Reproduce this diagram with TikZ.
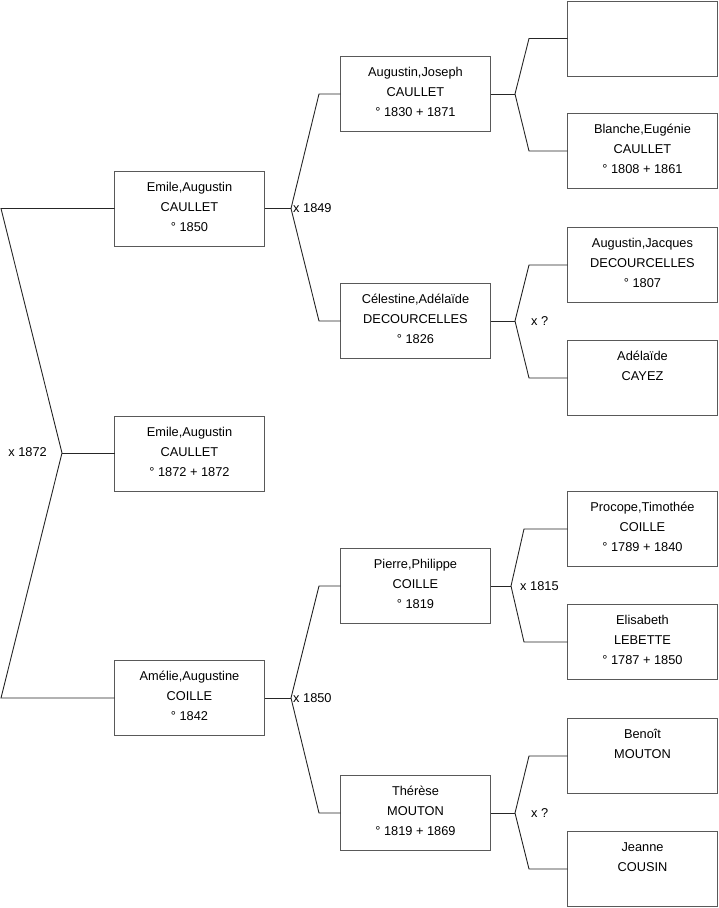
\documentclass[tikz,border=0pt]{standalone}
\usepackage{fontspec}
\setmainfont{Liberation Sans}
\begin{document}
\begin{tikzpicture}[x=1pt,y=-1pt,
  person/.style={draw=black!65, line width=0.9pt, minimum width=150pt, minimum height=75pt,
    inner sep=0pt, outer sep=0pt, align=center, font=\fontsize{12.8}{20}\selectfont, fill=white,
    text depth=4pt},
  conn/.style={draw=black!85, line width=0.9pt},
  mlabel/.style={font=\fontsize{12.8}{15}\selectfont, inner sep=0pt}]
\useasboundingbox (0,0) rectangle (719,908);
\newcommand{\ph}{\phantom{0}}
% level 1
\node[person] (a) at (189.5,208.5) {Emile,Augustin\\CAULLET\\° 1850};
\node[person] (m) at (189.5,454) {Emile,Augustin\\CAULLET\\° 1872 + 1872};
\node[person] (b) at (189.5,698) {Amélie,Augustine\\COILLE\\° 1842};
% level 2
\node[person] (c) at (415.5,94) {Augustin,Joseph\\CAULLET\\° 1830 + 1871};
\node[person] (d) at (415.5,321) {Célestine,Adélaïde\\DECOURCELLES\\° 1826};
\node[person] (e) at (415.5,586) {Pierre,Philippe\\COILLE\\° 1819};
\node[person] (f) at (415.5,813) {Thérèse\\MOUTON\\° 1819 + 1869};
% level 3
\node[person] (g) at (642.5,38.5) {};
\node[person] (h) at (642.5,151) {Blanche,Eugénie\\CAULLET\\° 1808 + 1861};
\node[person] (i) at (642.5,265) {Augustin,Jacques\\DECOURCELLES\\° 1807};
\node[person] (j) at (642.5,378) {Adélaïde\\CAYEZ\\\ph};
\node[person] (k) at (642.5,529) {Procope,Timothée\\COILLE\\° 1789 + 1840};
\node[person] (l) at (642.5,642) {Elisabeth\\LEBETTE\\° 1787 + 1850};
\node[person] (n) at (642.5,756) {Benoît\\MOUTON\\\ph};
\node[person] (o) at (642.5,869) {Jeanne\\COUSIN\\\ph};
% root fork
\coordinate (f0) at (62,453);
\coordinate (f0t) at (1,208.5);
\coordinate (f0b) at (1,698);
\path[conn] (a.west) -- (f0t) -- (f0) -- (f0b) -- (b.west);
\path[conn] (f0) -- (f0 -| m.west);
\node[mlabel, anchor=east] (l0) at (47,452) {x 1872};
% a fork
\coordinate (fa) at (291,208.5);
\coordinate (fat) at (319,94);
\coordinate (fab) at (319,321);
\path[conn] (a.east) -- (fa);
\path[conn] (c.west) -- (fat) -- (fa) -- (fab) -- (d.west);
\node[mlabel, anchor=west] (la) at (293,208.5) {x 1849};
% b fork
\coordinate (fb) at (291,698);
\coordinate (fbt) at (319,586);
\coordinate (fbb) at (319,813);
\path[conn] (b.east) -- (fb);
\path[conn] (e.west) -- (fbt) -- (fb) -- (fbb) -- (f.west);
\node[mlabel, anchor=west] (lb) at (293,698) {x 1850};
% c fork
\coordinate (fc) at (515,94);
\coordinate (fct) at (529,38.5);
\coordinate (fcb) at (529,151);
\path[conn] (c.east) -- (fc);
\path[conn] (g.west) -- (fct) -- (fc) -- (fcb) -- (h.west);
% d fork
\coordinate (fd) at (515,321);
\coordinate (fdt) at (529,265);
\coordinate (fdb) at (529,378);
\path[conn] (d.east) -- (fd);
\path[conn] (i.west) -- (fdt) -- (fd) -- (fdb) -- (j.west);
\node[mlabel, anchor=west] (ld) at (531,321) {x ?};
% e fork
\coordinate (fe) at (511,586);
\coordinate (fet) at (524,529);
\coordinate (feb) at (524,642);
\path[conn] (e.east) -- (fe);
\path[conn] (k.west) -- (fet) -- (fe) -- (feb) -- (l.west);
\node[mlabel, anchor=west] (le) at (520,586) {x 1815};
% f fork
\coordinate (ff) at (515,813);
\coordinate (fft) at (529,756);
\coordinate (ffb) at (529,869);
\path[conn] (f.east) -- (ff);
\path[conn] (n.west) -- (fft) -- (ff) -- (ffb) -- (o.west);
\node[mlabel, anchor=west] (lf) at (531,813) {x ?};
\end{tikzpicture}
\end{document}
